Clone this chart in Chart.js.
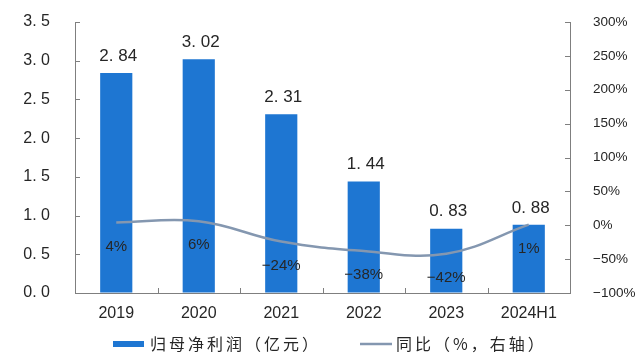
<!DOCTYPE html>
<html>
<head>
<meta charset="utf-8">
<script src="https://cdn.jsdelivr.net/npm/chart.js@4.4.1/dist/chart.umd.min.js"></script>
<style>
  html, body { margin: 0; padding: 0; background: #fff; }
  #wrap { width: 636px; height: 354px; position: relative; }
</style>
</head>
<body>
<div id="wrap"><canvas id="c" width="636" height="354"></canvas></div>
<script>
const categories = ['2019', '2020', '2021', '2022', '2023', '2024H1'];
const netProfit = [2.84, 3.02, 2.31, 1.44, 0.83, 0.88];
const yoyGrowth = [4, 6, -24, -38, -42, 1];
const seriesNames = ['归母净利润（亿元）', '同比（%，右轴）'];

const BAR_COLOR = '#1e76d2';
const LINE_COLOR = '#8497b0';
const AXIS_COLOR = '#7f7f7f';
const TEXT_COLOR = '#262626';
const LATIN = '"Liberation Sans", Arial, sans-serif';
const CJK = '"Noto Sans CJK SC", sans-serif';

function fmtPct(v) {
  return (v < 0 ? '\u2212' + Math.abs(v) : String(v)) + '%';
}

const decorPlugin = {
  id: 'decor',
  afterDatasetsDraw(chart) {
    const ctx = chart.ctx;
    const area = chart.chartArea;
    const x = chart.scales.x, yL = chart.scales.yL, yR = chart.scales.yR;
    ctx.save();
    ctx.strokeStyle = AXIS_COLOR;
    ctx.lineWidth = 1;
    ctx.beginPath();
    yL.ticks.forEach(t => {
      const py = Math.round(yL.getPixelForValue(t.value)) + 0.5;
      ctx.moveTo(area.left, py); ctx.lineTo(area.left + 5, py);
    });
    yR.ticks.forEach(t => {
      const py = Math.round(yR.getPixelForValue(t.value)) + 0.5;
      ctx.moveTo(area.right - 5, py); ctx.lineTo(area.right, py);
    });
    for (let i = 0; i < categories.length - 1; i++) {
      const px = Math.round((x.getPixelForValue(i) + x.getPixelForValue(i + 1)) / 2) + 0.5;
      ctx.moveTo(px, area.bottom); ctx.lineTo(px, area.bottom - 5);
    }
    ctx.stroke();

    const barMeta = chart.getDatasetMeta(1);
    ctx.fillStyle = TEXT_COLOR;
    ctx.font = '17px ' + LATIN;
    ctx.textAlign = 'center';
    ctx.textBaseline = 'middle';
    barMeta.data.forEach((el, i) => {
      ctx.fillText(netProfit[i].toFixed(2).replace('.', '. '), el.x + 2, el.y - 17);
    });
    const lineMeta = chart.getDatasetMeta(0);
    ctx.font = '15px ' + LATIN;
    lineMeta.data.forEach((el, i) => {
      ctx.fillText(fmtPct(yoyGrowth[i]), el.x, el.y + 24);
    });
    ctx.restore();
  },
  afterDraw(chart) {
    const ctx = chart.ctx;
    const ly = 344;
    ctx.save();
    ctx.fillStyle = chart.data.datasets[1].backgroundColor;
    ctx.fillRect(113, ly - 3, 31, 6);
    ctx.strokeStyle = chart.data.datasets[0].borderColor;
    ctx.lineWidth = 2.5;
    ctx.beginPath();
    ctx.moveTo(360, ly); ctx.lineTo(392, ly);
    ctx.stroke();
    ctx.fillStyle = TEXT_COLOR;
    ctx.font = '16px ' + CJK;
    try { ctx.letterSpacing = '3px'; } catch (e) {}
    ctx.textAlign = 'left';
    ctx.textBaseline = 'middle';
    ctx.fillText(seriesNames[0], 150, ly);
    ctx.fillText(seriesNames[1], 396, ly);
    ctx.restore();
  }
};

function fixY(w) {
  return s => { s.width = w; s.paddingTop = 0; s.paddingBottom = 0; };
}

new Chart(document.getElementById('c'), {
  data: {
    labels: categories,
    datasets: [
      {
        type: 'line',
        label: seriesNames[1],
        data: yoyGrowth,
        yAxisID: 'yR',
        borderColor: LINE_COLOR,
        borderWidth: 2.5,
        tension: 0.4,
        pointRadius: 0,
        fill: false,
        order: 0
      },
      {
        type: 'bar',
        label: seriesNames[0],
        data: netProfit,
        yAxisID: 'yL',
        backgroundColor: BAR_COLOR,
        barPercentage: 0.39,
        categoryPercentage: 1.0,
        order: 1
      }
    ]
  },
  options: {
    responsive: false,
    animation: false,
    devicePixelRatio: 1,
    layout: { padding: { top: 22, bottom: 31, left: 0, right: 0 } },
    plugins: { legend: { display: false }, tooltip: { enabled: false } },
    scales: {
      x: {
        offset: true,
        grid: { display: true, drawOnChartArea: false, drawTicks: false },
        border: { display: true, color: AXIS_COLOR, width: 1 },
        ticks: { color: TEXT_COLOR, font: { size: 16, family: LATIN }, padding: 11, maxRotation: 0 },
        afterFit(s) { s.height = 30; s.paddingLeft = 0; s.paddingRight = 0; }
      },
      yL: {
        position: 'left',
        min: 0, max: 3.5,
        grid: { display: true, drawOnChartArea: false, drawTicks: false },
        border: { display: true, color: AXIS_COLOR, width: 1 },
        ticks: {
          stepSize: 0.5, color: TEXT_COLOR, font: { size: 16, family: LATIN }, padding: 25,
          callback: v => v.toFixed(1).replace('.', '. ')
        },
        afterFit: fixY(75)
      },
      yR: {
        position: 'right',
        min: -100, max: 300,
        grid: { display: true, drawOnChartArea: false, drawTicks: false },
        border: { display: true, color: AXIS_COLOR, width: 1 },
        ticks: {
          stepSize: 50, color: TEXT_COLOR, font: { size: 13.5, family: LATIN }, padding: 23,
          callback: v => fmtPct(v)
        },
        afterFit: fixY(66)
      }
    }
  },
  plugins: [decorPlugin]
});
</script>
</body>
</html>
